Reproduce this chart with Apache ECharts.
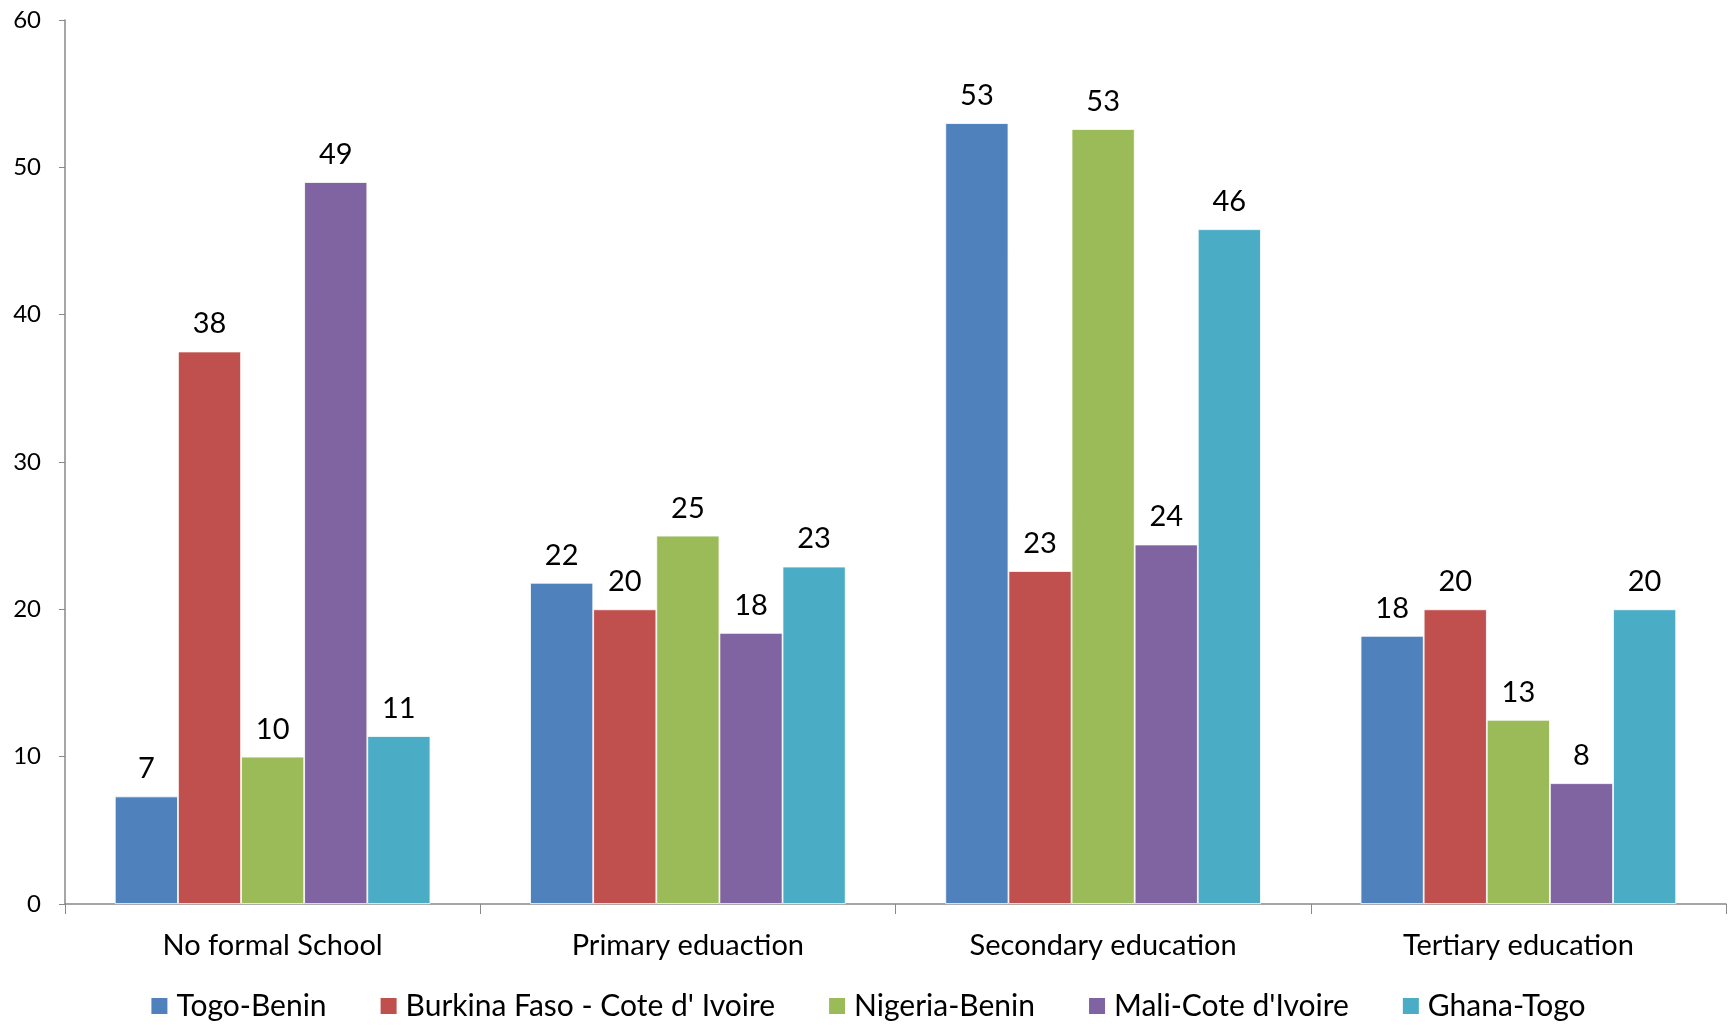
<!DOCTYPE html>
<html>
<head>
<meta charset="utf-8">
<script src="https://cdn.jsdelivr.net/npm/echarts@6/dist/echarts.min.js"></script>
<style>html,body{margin:0;padding:0;background:#fff}#c{width:1735px;height:1027px}</style>
</head>
<body>
<div id="c"></div>
<script>
const categories = ['No formal School', 'Primary eduaction', 'Secondary education', 'Tertiary education'];
const seriesNames = ['Togo-Benin', 'Burkina Faso - Cote d\' Ivoire', 'Nigeria-Benin', 'Mali-Cote d\'Ivoire', 'Ghana-Togo'];
const togoBenin = [7.3, 21.8, 53.0, 18.2];
const burkinaCote = [37.5, 20.0, 22.6, 20.0];
const nigeriaBenin = [10.0, 25.0, 52.6, 12.5];
const maliCote = [49.0, 18.4, 24.4, 8.2];
const ghanaTogo = [11.4, 22.9, 45.8, 20.0];
const yTicks = [0, 10, 20, 30, 40, 50, 60];
const colors = ['#4F81BD', '#C0504D', '#9BBB59', '#8064A2', '#4BACC6'];
const values = [togoBenin, burkinaCote, nigeriaBenin, maliCote, ghanaTogo];

const font = 'Lato, "Open Sans", sans-serif';
const chart = echarts.init(document.getElementById('c'));
chart.setOption({
  animation: false,
  color: colors,
  grid: { left: 65, right: 9, top: 20, bottom: 123, containLabel: false },
  legend: {
    bottom: 1,
    left: 'center',
    itemWidth: 18, itemHeight: 18, itemGap: 52,
    icon: 'rect',
    textStyle: { fontFamily: font, fontSize: 30, color: '#000', padding: [0, 0, 0, 3] },
    data: seriesNames
  },
  xAxis: {
    type: 'category',
    data: categories,
    axisLine: { lineStyle: { color: '#888', width: 1.5 } },
    axisTick: { show: true, length: 10, interval: 0, lineStyle: { color: '#888' } },
    axisLabel: { fontFamily: font, fontSize: 29, color: '#000', margin: 27, interval: 0 }
  },
  yAxis: {
    type: 'value',
    min: yTicks[0], max: yTicks[yTicks.length - 1], interval: 10,
    axisLine: { show: true, lineStyle: { color: '#888', width: 1.5 } },
    axisTick: { show: true, length: 6, lineStyle: { color: '#888' } },
    splitLine: { show: false },
    axisLabel: { fontFamily: font, fontSize: 24, color: '#000', margin: 24 }
  },
  series: seriesNames.map((name, i) => ({
    name: name,
    type: 'bar',
    data: values[i],
    barGap: '0%',
    barCategoryGap: '24%',
    itemStyle: { color: colors[i], borderColor: '#fff', borderWidth: 0.8 },
    label: {
      show: true, position: 'top', distance: 13,
      fontFamily: font, fontSize: 29, color: '#000',
      formatter: p => Math.round(p.value)
    }
  }))
});
</script>
</body>
</html>
